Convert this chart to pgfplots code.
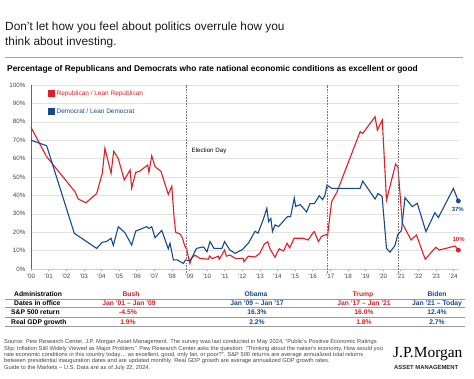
\documentclass[border=0pt]{standalone}
\usepackage{fontspec}
\setmainfont{Liberation Sans}
\newfontfamily\logofont{Liberation Serif}
\usepackage{pgfplots}
\pgfplotsset{compat=1.18}
\newcommand{\fs}[1]{\fontsize{#1}{#1}\selectfont}
\definecolor{jpred}{RGB}{225,29,38}
\definecolor{jpblue}{RGB}{24,72,140}
\definecolor{gridgray}{RGB}{226,226,226}
\definecolor{txtgray}{RGB}{70,70,70}
\begin{document}
\begin{tikzpicture}
\path[use as bounding box] (0,0) rectangle (474bp,-379bp);
% title
\node[anchor=base west, inner sep=0, font=\fs{11.9}, text=black!90] at (5bp,-30bp) {Don’t let how you feel about politics overrule how you};
\node[anchor=base west, inner sep=0, font=\fs{11.9}, text=black!90] at (5bp,-45.5bp) {think about investing.};
\draw[black!35, line width=0.8bp] (5bp,-57bp) -- (463bp,-57bp);
\node[anchor=base west, inner sep=0, font=\bfseries\fs{8.4}] at (7bp,-71bp) {Percentage of Republicans and Democrats who rate national economic conditions as excellent or good};

\begin{axis}[
  at={(31bp,-269bp)}, anchor=south west, scale only axis,
  width=428bp, height=184bp,
  xmin=0, xmax=24.32, ymin=0, ymax=100,
  axis x line*=bottom, axis y line*=left,
  x axis line style={draw=black!20, line width=0.6bp},
  y axis line style={draw=black!60, line width=1bp},
  ytick={0,10,...,100}, ymajorgrids,
  grid style={gridgray, line width=0.6bp},
  yticklabel={\pgfmathprintnumber{\tick}\%},
  /pgf/number format/assume math mode=true,
  xtick={0,...,24},
  xticklabels={'00,'01,'02,'03,'04,'05,'06,'07,'08,'09,'10,'11,'12,'13,'14,'15,'16,'17,'18,'19,'20,'21,'22,'23,'24},
  ticklabel style={font=\fs{6.3}, text=txtgray},
  y tick style={draw=none},
  x tick style={draw=black!40, line width=0.4bp},
  major tick length=2bp, tick align=outside,
  clip=false,
  legend style={at={(0.04,0.983)}, anchor=north west, draw=none, fill=none,
    font=\fs{6.5}, row sep=8bp, inner sep=0pt},
  legend cell align=left,
  legend image code/.code={\fill (0bp,-2.6bp) rectangle (5.2bp,2.6bp);},
]
\addplot[jpred, line width=1.1bp] coordinates {
(0,77) (0.89,61) (2.5,42) (2.69,38) (3.12,36) (3.73,41) (4.05,52) (4.2,65.6) (4.55,52) (4.7,64) (4.96,60) (5.3,48.4) (5.63,53.8) (5.72,44) (5.95,52.5) (6.15,53) (6.63,56.5) (6.7,52.5) (6.86,61.5) (7.05,55.6) (7.39,53) (7.8,40.5) (8.0,45) (8.13,28) (8.22,20) (8.47,19) (8.6,17) (8.72,13) (8.85,10.5) (8.92,7.5) (9.03,3) (9.13,6) (9.32,7.5) (9.6,5.8) (10.07,5.3) (10.15,7) (10.3,5.6) (10.64,7) (10.7,5.3) (11.0,10.3) (11.1,7) (11.3,7.6) (11.6,5.8) (12.06,5.8) (12.1,4) (12.35,7) (12.73,6.5) (13.0,8.5) (13.26,13.6) (13.45,14.8) (13.58,11) (13.86,6.4) (14.1,11) (14.35,9.8) (14.55,14) (14.7,11.5) (14.95,16.7) (15.47,16.7) (15.75,15.8) (16.04,19.9) (16.1,20.3) (16.33,14.9) (16.5,17.6) (16.76,18.8) (16.85,18) (17.08,36.6) (17.37,41.5) (18.7,74.6) (18.85,73.7) (19.55,82.8) (19.68,75.5) (19.96,81) (20.2,37.5) (20.72,57) (20.85,55.5) (21.1,24.8) (21.6,15.8) (21.9,18.5) (22.4,5.3) (23.0,11.8) (23.2,10.3) (24.1,12.5) (24.28,10.3)
};
\addlegendentry{\textcolor{jpred}{Republican / Lean Republican}}
\addplot[jpblue, line width=1.1bp] coordinates {
(0,70) (0.89,67) (2.46,19.4) (3.73,11.2) (4.05,14.5) (4.3,15) (4.55,16.7) (4.68,12.8) (4.96,23) (5.34,19.7) (5.72,13) (5.95,20.6) (6.57,23) (6.7,22) (6.86,23) (7.05,17) (7.43,21) (7.8,11) (7.9,14) (8.09,4.9) (8.3,5) (8.66,3) (8.78,4.9) (9.0,4.5) (9.13,5.8) (9.4,11.2) (9.8,12) (10.0,9.4) (10.17,14.9) (10.4,11.2) (10.85,11.2) (11.0,14.9) (11.3,10.3) (11.6,8.5) (12.0,10.5) (12.35,14) (12.73,20.5) (12.9,19.5) (13.2,27) (13.4,33) (13.5,25.7) (13.63,27.5) (13.72,20.3) (13.87,24) (14.06,23) (14.25,25) (14.47,27.5) (14.6,28.6) (14.75,28.4) (14.96,38.6) (15.04,34) (15.3,35) (15.66,31) (15.85,35.5) (16.1,35.5) (16.38,39.8) (16.57,37.7) (16.7,40) (16.82,45.6) (17.1,43.8) (18.7,43.8) (18.85,47.8) (19.55,38) (19.72,41) (19.95,39.5) (20.2,11.2) (20.4,9.2) (20.68,12.7) (20.84,18.7) (21.05,20.9) (21.25,38.8) (21.66,33.9) (21.95,35.7) (22.44,20.3) (22.95,30.6) (23.15,28) (24.0,43.8) (24.28,37)
};
\addlegendentry{\textcolor{jpblue}{Democrat / Lean Democrat}}
\addplot[jpred, only marks, mark=*, mark size=2.2bp, forget plot] coordinates {(24.28,10.3)};
\addplot[jpblue, only marks, mark=*, mark size=2.2bp, forget plot] coordinates {(24.28,37)};
\foreach \xx in {8.85,16.85,20.85}{
  \edef\tmp{\noexpand\draw[black!55, line width=0.8bp, dash pattern=on 1.6bp off 1.2bp] (axis cs:\xx,-2) -- (axis cs:\xx,100);}
  \tmp
}
\node[anchor=west, inner sep=0, font=\fs{6.2}] at (axis cs:9.12,64.3) {Election Day};
\node[font=\bfseries\fs{6}, text=jpblue, inner sep=0] at (axis cs:24.25,32.1) {37\%};
\node[font=\bfseries\fs{6}, text=jpred, inner sep=0] at (axis cs:24.3,15.8) {10\%};
\end{axis}

% table
\begin{scope}[every node/.style={inner sep=0, font=\bfseries\fs{6.8}}]
\node[anchor=base west] at (14bp,-296.5bp) {Administration};
\node[anchor=base west] at (14bp,-305.6bp) {Dates in office};
\node[anchor=base west] at (11bp,-314.7bp) {S\&P 500 return};
\node[anchor=base west] at (11bp,-324.1bp) {Real GDP growth};
\node[anchor=base, text=jpred] at (131bp,-296.5bp) {Bush};
\node[anchor=base, text=jpblue] at (256bp,-296.5bp) {Obama};
\node[anchor=base, text=jpred] at (363bp,-296.5bp) {Trump};
\node[anchor=base, text=jpblue] at (437bp,-296.5bp) {Biden};
\node[anchor=base, text=jpred] at (129bp,-305.6bp) {Jan ’01 – Jan ’09};
\node[anchor=base, text=jpblue] at (257bp,-305.6bp) {Jan ’09 – Jan ’17};
\node[anchor=base, text=jpred] at (364bp,-305.6bp) {Jan ’17 – Jan ’21};
\node[anchor=base, text=jpblue] at (437bp,-305.6bp) {Jan ’21 – Today};
\node[anchor=base, text=jpred] at (128bp,-314.7bp) {-4.5\%};
\node[anchor=base, text=jpblue] at (257bp,-314.7bp) {16.3\%};
\node[anchor=base, text=jpred] at (364bp,-314.7bp) {16.0\%};
\node[anchor=base, text=jpblue] at (437bp,-314.7bp) {12.4\%};
\node[anchor=base, text=jpred] at (128bp,-324.1bp) {1.9\%};
\node[anchor=base, text=jpblue] at (257bp,-324.1bp) {2.2\%};
\node[anchor=base, text=jpred] at (364bp,-324.1bp) {1.8\%};
\node[anchor=base, text=jpblue] at (437bp,-324.1bp) {2.7\%};
\end{scope}
\foreach \yy in {299,307.5,317,326.3}{
  \draw[black!40, line width=0.6bp] (5bp,-\yy bp) -- (465bp,-\yy bp);
}
% footer
\node[anchor=north west, inner sep=0, align=left, text=txtgray, font=\fontsize{5.75bp}{4.85bp}\selectfont] at (4bp,-339.5bp) {Source: Pew Research Center, J.P. Morgan Asset Management. The survey was last conducted in May 2024, “Public’s Positive Economic Ratings\\
Slip; Inflation Still Widely Viewed as Major Problem.” Pew Research Center asks the question: “Thinking about the nation’s economy, How would you\\
rate economic conditions in this country today… as excellent, good, only fair, or poor?”. S\&P 500 returns are average annualized total returns\\
between presidential inauguration dates and are updated monthly. Real GDP growth are average annualized GDP growth rates.\\
Guide to the Markets – U.S. Data are as of July 22, 2024.};
\node[anchor=base west, inner sep=0, font=\logofont\fs{15.5}] at (393bp,-357bp) {J.P.Morgan};
\node[anchor=base west, inner sep=0, font=\bfseries\fs{5.9}, text=black!85] at (394bp,-369bp) {ASSET MANAGEMENT};
\end{tikzpicture}
\end{document}
